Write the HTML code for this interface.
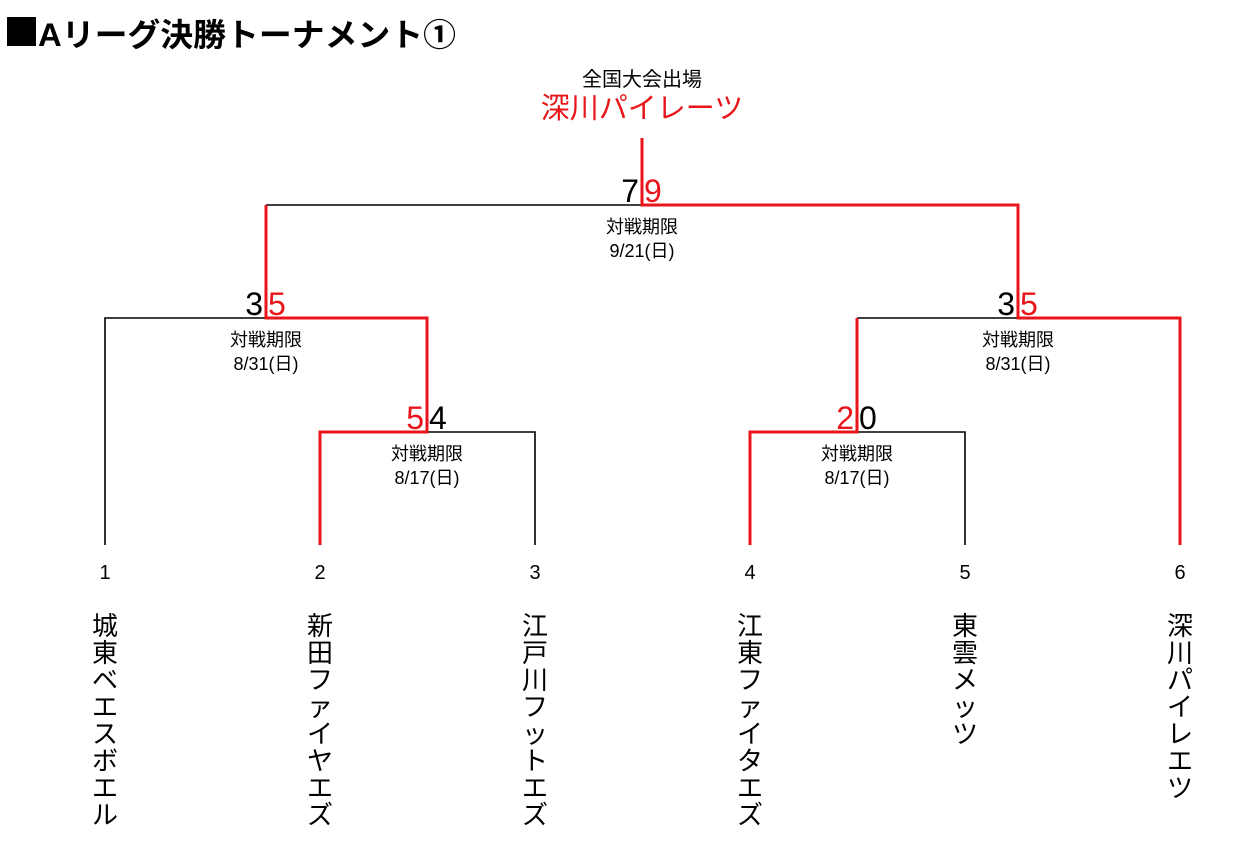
<!DOCTYPE html>
<html><head><meta charset="utf-8"><style>
html,body{margin:0;padding:0;background:#fff;}
svg{display:block;font-family:"Liberation Sans","Noto Sans CJK JP",sans-serif;}
</style></head><body>
<svg width="1251" height="847" viewBox="0 0 1251 847" xmlns="http://www.w3.org/2000/svg">
<rect x="7" y="17" width="29" height="29" fill="#000"/>
<text x="38" y="46" font-size="32" font-weight="bold" textLength="418" lengthAdjust="spacingAndGlyphs">Aリーグ決勝トーナメント①</text>
<text x="642" y="86" font-size="20" text-anchor="middle">全国大会出場</text>
<text x="642" y="118" font-size="29" text-anchor="middle" fill="#e8151b">深川パイレーツ</text>

<g stroke="#000" stroke-width="1.6" fill="none">
<path d="M266 205 H642"/>
<path d="M105 545 V318 H266"/>
<path d="M427 432 H535 V545"/>
<path d="M857 432 H965 V545"/>
<path d="M857 318 H1018"/>
</g>
<g stroke="#e8151b" stroke-width="3" fill="none">
<path d="M642 138 V205 H1018 V318 H1180 V545"/>
<path d="M266 205 V318 H427 V432 H320 V545"/>
<path d="M857 318 V432 H750 V545"/>
</g>

<g font-size="32">
<text x="639" y="202" text-anchor="end">7</text><text x="644" y="202" fill="#e8151b">9</text>
<text x="263" y="315" text-anchor="end">3</text><text x="268" y="315" fill="#e8151b">5</text>
<text x="1015" y="315" text-anchor="end">3</text><text x="1020" y="315" fill="#e8151b">5</text>
<text x="424" y="429" text-anchor="end" fill="#e8151b">5</text><text x="429" y="429">4</text>
<text x="854" y="429" text-anchor="end" fill="#e8151b">2</text><text x="859" y="429">0</text>
</g>
<g font-size="18" text-anchor="middle">
<text x="642" y="233">対戦期限</text><text x="642" y="257">9/21(日)</text>
<text x="266" y="346">対戦期限</text><text x="266" y="370">8/31(日)</text>
<text x="1018" y="346">対戦期限</text><text x="1018" y="370">8/31(日)</text>
<text x="427" y="460">対戦期限</text><text x="427" y="484">8/17(日)</text>
<text x="857" y="460">対戦期限</text><text x="857" y="484">8/17(日)</text>
</g>
<g font-size="20" text-anchor="middle">
<text x="105" y="579">1</text><text x="320" y="579">2</text><text x="535" y="579">3</text>
<text x="750" y="579">4</text><text x="965" y="579">5</text><text x="1180" y="579">6</text>
</g>
<g font-size="26" text-anchor="middle">
<text x="105" y="635">城</text><text x="105" y="662">東</text><text x="105" y="689">ベ</text><text x="105" y="716">エ</text><text x="105" y="743">ス</text><text x="105" y="770">ボ</text><text x="105" y="797">エ</text><text x="105" y="824">ル</text>
<text x="320" y="635">新</text><text x="320" y="662">田</text><text x="320" y="689">フ</text><text x="320" y="716">ァ</text><text x="320" y="743">イ</text><text x="320" y="770">ヤ</text><text x="320" y="797">エ</text><text x="320" y="824">ズ</text>
<text x="535" y="635">江</text><text x="535" y="662">戸</text><text x="535" y="689">川</text><text x="535" y="716">フ</text><text x="535" y="743">ッ</text><text x="535" y="770">ト</text><text x="535" y="797">エ</text><text x="535" y="824">ズ</text>
<text x="750" y="635">江</text><text x="750" y="662">東</text><text x="750" y="689">フ</text><text x="750" y="716">ァ</text><text x="750" y="743">イ</text><text x="750" y="770">タ</text><text x="750" y="797">エ</text><text x="750" y="824">ズ</text>
<text x="965" y="635">東</text><text x="965" y="662">雲</text><text x="965" y="689">メ</text><text x="965" y="716">ッ</text><text x="965" y="743">ツ</text>
<text x="1180" y="635">深</text><text x="1180" y="662">川</text><text x="1180" y="689">パ</text><text x="1180" y="716">イ</text><text x="1180" y="743">レ</text><text x="1180" y="770">エ</text><text x="1180" y="797">ツ</text>
</g>
</svg>
</body></html>
